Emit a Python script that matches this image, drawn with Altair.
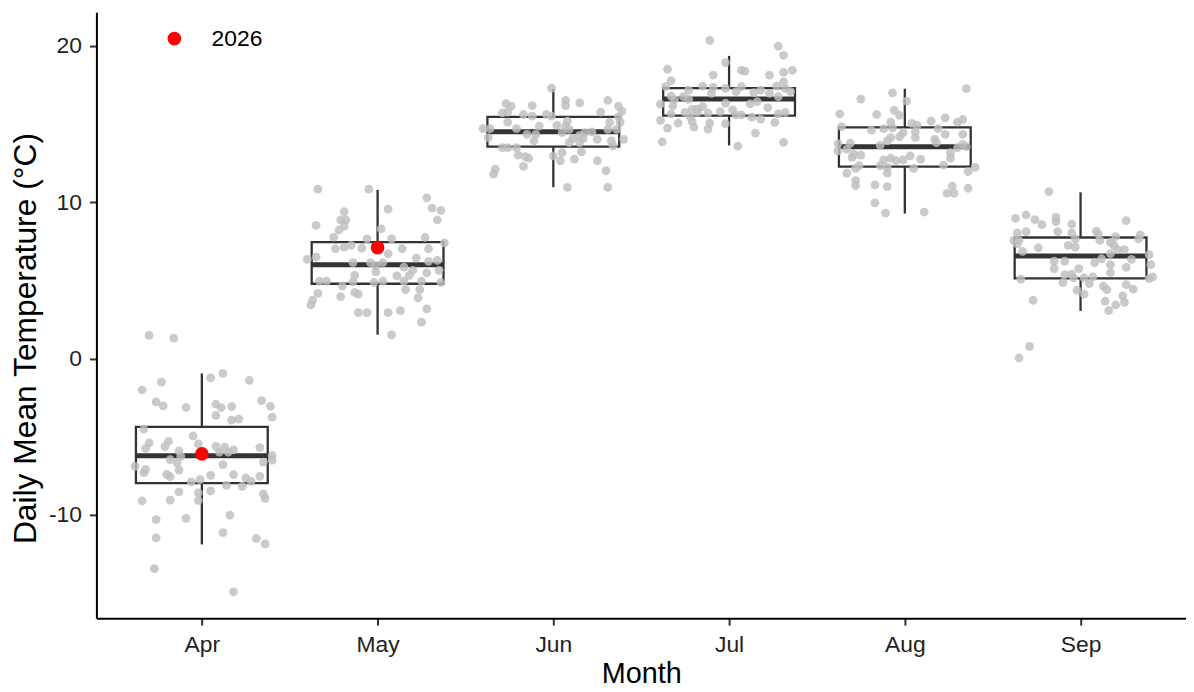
import json
import altair as alt
import pandas as pd

months = ["Apr", "May", "Jun", "Jul", "Aug", "Sep"]

apr_vals = [1.48, 1.31, -0.95, -1.23, -1.40, -1.50, -2.01, -2.77, -3.03, -3.13,
            -2.92, -3.13, -3.07, -2.69, -3.05, -3.64, -3.94, -3.87, -3.75, -4.51,
            -4.95, -5.40, -5.74, -5.29, -5.63, -5.90, -5.46, -5.61, -5.67, -5.99,
            -5.99, -5.84, -5.69, -6.46, -6.26, -6.67, -6.90, -7.09, -7.30, -7.13,
            -6.79, -6.62, -6.20, -6.50, -7.41, -7.56, -7.89, -7.75, -7.47, -7.43,
            -7.64, -7.85, -7.53, -8.11, -8.17, -8.53, -8.59, -9.08, -8.47, -8.66,
            -8.95, -9.10, -9.06, -10.31, -10.22, -10.01, -11.47, -11.13, -11.51, -11.85,
            -13.44, -14.92]
apr_off = [-0.30, -0.16, 0.12, 0.05, 0.27, -0.23, -0.34, -0.26, -0.22, -0.09,
           0.08, 0.11, 0.17, 0.34, 0.39, 0.08, 0.17, 0.21, 0.40, -0.33,
           -0.05, -0.30, -0.32, -0.19, -0.21, -0.13, -0.02, 0.08, 0.13, 0.10,
           0.15, 0.18, 0.33, -0.18, -0.12, -0.14, -0.38, -0.32, -0.33, -0.13,
           0.12, 0.35, 0.40, 0.40, -0.20, -0.18, -0.06, -0.01, 0.05, 0.18,
           0.25, 0.28, 0.33, 0.14, 0.23, -0.13, -0.02, -0.02, 0.05, 0.35,
           0.36, -0.34, -0.18, -0.26, -0.09, 0.16, -0.26, 0.12, 0.31, 0.36,
           -0.27, 0.18]

may_vals = [10.84, 10.84, 10.29, 9.63, 9.48, 9.57, 9.40, 8.87, 8.87, 8.87,
            8.53, 8.47, 8.23, 8.30, 7.77, 7.66, 7.66, 7.75, 7.41, 7.03,
            7.13, 7.24, 7.07, 7.03, 7.03, 6.71, 6.50, 6.35, 6.14, 6.14,
            6.14, 5.97, 6.43, 6.22, 6.29, 5.86, 5.65, 5.65, 5.55, 5.33,
            5.29, 5.33, 5.48, 4.95, 4.95, 4.95, 4.91, 4.87, 4.95, 4.95,
            4.87, 4.66, 4.42, 4.42, 4.17, 4.23, 4.13, 3.96, 3.89, 3.73,
            3.43, 2.94, 2.94, 2.94, 3.07, 3.18, 2.33, 1.52]
may_off = [-0.34, -0.05, 0.28, 0.31, 0.36, 0.06, -0.19, -0.21, -0.18, 0.34,
           -0.35, -0.19, -0.22, 0.02, -0.25, -0.06, 0.08, 0.27, 0.38, -0.24,
           -0.19, -0.15, -0.09, 0.14, 0.29, 0.06, -0.35, -0.40, -0.14, -0.04,
           0.03, -0.01, 0.22, 0.29, 0.34, 0.15, 0.20, 0.35, -0.01, -0.13,
           0.11, 0.18, 0.28, 0.03, -0.33, -0.29, -0.14, -0.02, 0.15, 0.25,
           0.36, -0.20, 0.16, 0.24, -0.34, -0.13, -0.11, -0.21, 0.23, -0.37,
           -0.38, -0.11, -0.06, 0.06, 0.13, 0.28, 0.25, 0.08]

jun_vals = [17.31, 16.53, 16.19, 16.36, 16.53, 16.32, 16.15, 16.19, 16.15, 15.83,
            15.73, 15.77, 15.62, 15.51, 15.62, 15.51, 15.77, 15.47, 15.20, 15.13,
            15.13, 15.13, 14.88, 14.92, 14.88, 14.71, 14.71, 14.71, 14.67, 14.67,
            14.67, 14.35, 14.35, 14.46, 14.29, 14.46, 14.50, 14.07, 14.07, 14.14,
            13.93, 14.03, 13.93, 14.03, 13.82, 13.82, 13.61, 13.50, 13.50, 13.50,
            13.23, 13.02, 12.93, 12.82, 12.97, 13.18, 12.66, 12.76, 12.66, 12.30,
            12.13, 11.81, 12.02, 10.96, 10.96]
jun_off = [-0.01, 0.07, 0.07, 0.15, 0.31, -0.27, -0.24, -0.12, 0.37, 0.39,
           -0.29, -0.26, -0.17, -0.12, -0.04, -0.01, 0.27, 0.37, 0.08, -0.26,
           0.32, 0.38, -0.08, 0.02, 0.07, -0.40, -0.36, -0.21, 0.09, 0.31,
           0.36, -0.15, -0.10, 0.05, 0.15, 0.18, 0.22, 0.11, 0.17, -0.37,
           -0.11, 0.25, 0.33, 0.40, 0.09, 0.15, 0.34, -0.29, -0.26, -0.21,
           0.16, -0.20, -0.16, -0.14, 0.00, 0.05, 0.04, 0.12, 0.25, -0.17,
           -0.33, -0.34, 0.30, 0.08, 0.31]

jul_vals = [20.36, 20.00, 19.41, 18.94, 18.52, 18.45, 18.39, 18.31, 18.45, 18.14,
            18.14, 17.78, 17.71, 17.40, 17.44, 17.35, 17.29, 17.40, 17.18, 17.44,
            17.29, 17.18, 16.97, 17.08, 17.02, 16.97, 17.08, 16.80, 16.76, 16.76,
            16.59, 16.59, 16.44, 16.28, 16.17, 16.34, 16.30, 16.13, 16.06, 15.96,
            15.96, 15.92, 15.66, 15.75, 15.75, 15.70, 15.60, 15.60, 15.66, 15.75,
            15.81, 15.45, 15.45, 15.24, 15.07, 15.17, 15.07, 15.03, 15.32, 15.11,
            14.75, 14.81, 14.69, 14.43, 13.86, 13.59, 13.84]
jul_off = [-0.11, 0.28, 0.31, -0.02, -0.35, 0.07, 0.09, 0.31, 0.36, 0.23,
           -0.09, -0.33, 0.31, -0.36, -0.15, -0.09, -0.02, 0.07, 0.18, 0.27,
           0.32, -0.23, -0.10, 0.04, 0.14, 0.23, 0.35, -0.33, -0.26, 0.28,
           -0.31, -0.23, 0.16, -0.39, -0.32, -0.02, 0.12, -0.15, 0.22, -0.21,
           -0.18, 0.02, -0.33, -0.25, -0.18, -0.12, 0.04, 0.07, 0.28, 0.32,
           -0.05, -0.22, 0.13, -0.39, -0.29, -0.21, -0.11, -0.02, 0.18, 0.26,
           -0.35, -0.20, -0.12, 0.15, -0.38, 0.05, 0.31]

aug_vals = [17.27, 17.00, 16.61, 16.47, 15.66, 15.62, 15.89, 15.56, 15.41, 15.30,
            15.13, 14.84, 14.62, 14.71, 15.13, 14.77, 15.05, 14.92, 15.20, 14.71,
            14.46, 14.50, 14.35, 14.35, 14.14, 14.20, 14.14, 13.93, 14.03, 13.78,
            13.76, 13.65, 13.82, 13.50, 13.71, 13.57, 13.29, 13.40, 13.08, 13.02,
            12.87, 12.97, 12.76, 13.18, 12.72, 12.82, 12.72, 12.66, 12.38, 12.82,
            12.34, 12.34, 12.23, 12.17, 12.17, 12.23, 11.87, 11.87, 11.96, 11.39,
            11.07, 11.11, 11.01, 11.03, 10.90, 10.58, 10.58, 9.97, 9.31, 9.38]
aug_off = [0.35, -0.07, -0.25, 0.01, -0.37, -0.16, -0.06, -0.03, 0.23, 0.33,
           0.30, -0.36, -0.19, -0.12, -0.08, -0.07, 0.04, 0.07, 0.15, 0.19,
           -0.01, 0.06, 0.23, 0.33, -0.08, -0.03, 0.06, -0.10, 0.17, -0.31,
           -0.38, -0.14, 0.18, 0.30, 0.33, 0.35, -0.38, -0.33, -0.29, -0.25,
           -0.30, 0.03, 0.09, 0.26, -0.12, -0.08, -0.01, -0.05, 0.22, 0.26,
           -0.26, -0.14, -0.10, -0.28, 0.05, 0.40, -0.33, -0.10, 0.36, -0.28,
           -0.28, -0.17, -0.10, 0.27, 0.36, 0.24, 0.28, -0.17, -0.11, 0.11]

sep_vals = [10.69, 8.97, 9.19, 8.89, 8.57, 9.04, 8.76, 8.61, 8.83, 8.04,
            8.13, 8.13, 8.04, 8.15, 7.98, 7.81, 7.92, 7.66, 7.56, 7.56,
            7.34, 7.66, 7.56, 7.45, 7.24, 7.13, 7.09, 7.24, 6.98, 6.98,
            6.86, 6.71, 6.39, 6.14, 6.35, 6.65, 6.24, 6.24, 6.01, 6.01,
            5.76, 5.76, 5.84, 5.50, 5.38, 5.40, 5.16, 5.16, 5.23, 5.12,
            5.23, 5.08, 4.87, 4.80, 4.74, 4.63, 4.42, 4.44, 4.38, 4.13,
            4.02, 3.73, 3.68, 3.43, 3.60, 3.07, 0.78, 0.04]
sep_off = [-0.18, -0.37, -0.31, -0.26, -0.22, -0.14, -0.14, -0.05, 0.26, -0.36,
           -0.31, -0.13, -0.05, 0.09, 0.10, 0.20, 0.34, 0.33, -0.38, -0.35,
           -0.36, -0.03, 0.11, 0.17, -0.07, -0.03, -0.24, 0.19, 0.21, 0.25,
           -0.33, 0.17, 0.12, 0.08, 0.29, 0.39, -0.15, -0.09, 0.17, 0.40,
           -0.15, -0.01, 0.26, 0.17, -0.09, -0.05, -0.04, 0.02, 0.07, 0.39,
           0.41, -0.34, -0.10, 0.05, 0.26, 0.13, 0.15, 0.30, -0.02, 0.02,
           0.24, -0.27, 0.14, 0.20, 0.25, 0.16, -0.29, -0.35]

# Box-plot statistics per month
box_low = [-11.89, 1.53, 10.97, 13.64, 9.28, 3.05]
box_q1 = [-7.97, 4.79, 13.56, 15.55, 12.29, 5.13]
box_med = [-6.21, 6.01, 14.51, 16.61, 13.56, 6.57]
box_q3 = [-4.37, 7.46, 15.47, 17.31, 14.79, 7.75]
box_high = [-0.95, 10.80, 17.25, 19.37, 17.27, 10.64]

# Highlighted year
year_label = "2026"
year_months = ["Apr", "May"]
year_vals = [-6.1, 7.1]

BOX_HALF = 0.375

# ---------- tables ----------
all_vals = [apr_vals, may_vals, jun_vals, jul_vals, aug_vals, sep_vals]
all_off = [apr_off, may_off, jun_off, jul_off, aug_off, sep_off]
rows = []
for i, m in enumerate(months):
    for v, o in zip(all_vals[i], all_off[i]):
        rows.append({"month": m, "xpos": i + o, "temp": v})
pts = pd.DataFrame(rows)

boxes = pd.DataFrame({
    "month": months,
    "xc": list(range(len(months))),
    "xl": [i - BOX_HALF for i in range(len(months))],
    "xr": [i + BOX_HALF for i in range(len(months))],
    "low": box_low, "q1": box_q1, "med": box_med, "q3": box_q3, "high": box_high,
})

yr = pd.DataFrame({
    "month": year_months,
    "xpos": [months.index(m) for m in year_months],
    "temp": year_vals,
    "year": [year_label] * len(year_months),
})

FONT = "Liberation Sans"
x_title = "Month"
y_title = "Daily Mean Temperature (°C)"

xscale = alt.Scale(domain=[-0.6, len(months) - 0.4], nice=False, zero=False)
yscale = alt.Scale(domain=[-16.61, 22.16], nice=False, zero=False)

xaxis = alt.Axis(
    values=list(range(len(months))),
    labelExpr=json.dumps(months) + "[datum.value]",
    grid=False, domainColor="black", domainWidth=2,
    tickColor="#333333", tickWidth=2, tickSize=7,
    labelFont=FONT, labelFontSize=23, labelColor="#222222", labelPadding=9,
    titleFont=FONT, titleFontSize=29, titleFontWeight="normal", titleColor="black",
    titleY=65, titleBaseline="alphabetic",
)
yaxis = alt.Axis(
    values=[-10, 0, 10, 20],
    labelExpr="'' + datum.value",
    grid=False, domainColor="black", domainWidth=2,
    tickColor="#333333", tickWidth=2, tickSize=7,
    labelFont=FONT, labelFontSize=23, labelColor="#222222", labelPadding=8,
    titleFont=FONT, titleFontSize=32, titleFontWeight="normal", titleColor="black",
    titleX=-61, titleY=328, titleBaseline="alphabetic",
)


def X(f):
    return alt.X(f + ":Q", scale=xscale, axis=xaxis, title=x_title)


def Y(f):
    return alt.Y(f + ":Q", scale=yscale, axis=yaxis, title=y_title)


base_box = alt.Chart(boxes)
box = base_box.mark_rect(fill="white", stroke="#333333", strokeWidth=2.3).encode(
    x=X("xl"), x2="xr", y=Y("q1"), y2="q3")
wh_up = base_box.mark_rule(color="#333333", strokeWidth=2.3).encode(
    x=X("xc"), y=Y("q3"), y2="high")
wh_dn = base_box.mark_rule(color="#333333", strokeWidth=2.3).encode(
    x=X("xc"), y=Y("low"), y2="q1")
median = base_box.mark_rule(color="#333333", strokeWidth=5).encode(
    x=X("xl"), x2="xr", y=Y("med"))

jitter = alt.Chart(pts).mark_circle(size=78, color="#BEBEBE", opacity=0.82).encode(
    x=X("xpos"), y=Y("temp"))

red = alt.Chart(yr).mark_circle(size=190, opacity=1).encode(
    x=X("xpos"), y=Y("temp"),
    color=alt.Color("year:N",
                    scale=alt.Scale(domain=[year_label], range=["#FF0000"]),
                    title=None,
                    legend=alt.Legend(orient="none", legendX=67, legendY=15,
                                      symbolType="circle", symbolSize=190,
                                      symbolStrokeWidth=0, symbolOpacity=1,
                                      labelFont=FONT, labelFontSize=23,
                                      labelColor="black", labelOffset=26,
                                      padding=0)))

chart = alt.layer(box, wh_up, wh_dn, median, jitter, red).properties(
    width=1097, height=610,
    background="white",
    autosize=alt.AutoSizeParams(type="none"),
    padding={"left": 89, "top": 2, "right": 0, "bottom": 72},
).configure_view(stroke="transparent", strokeWidth=0)

chart.save("out.html", embed_options={"renderer": "svg", "actions": False})
